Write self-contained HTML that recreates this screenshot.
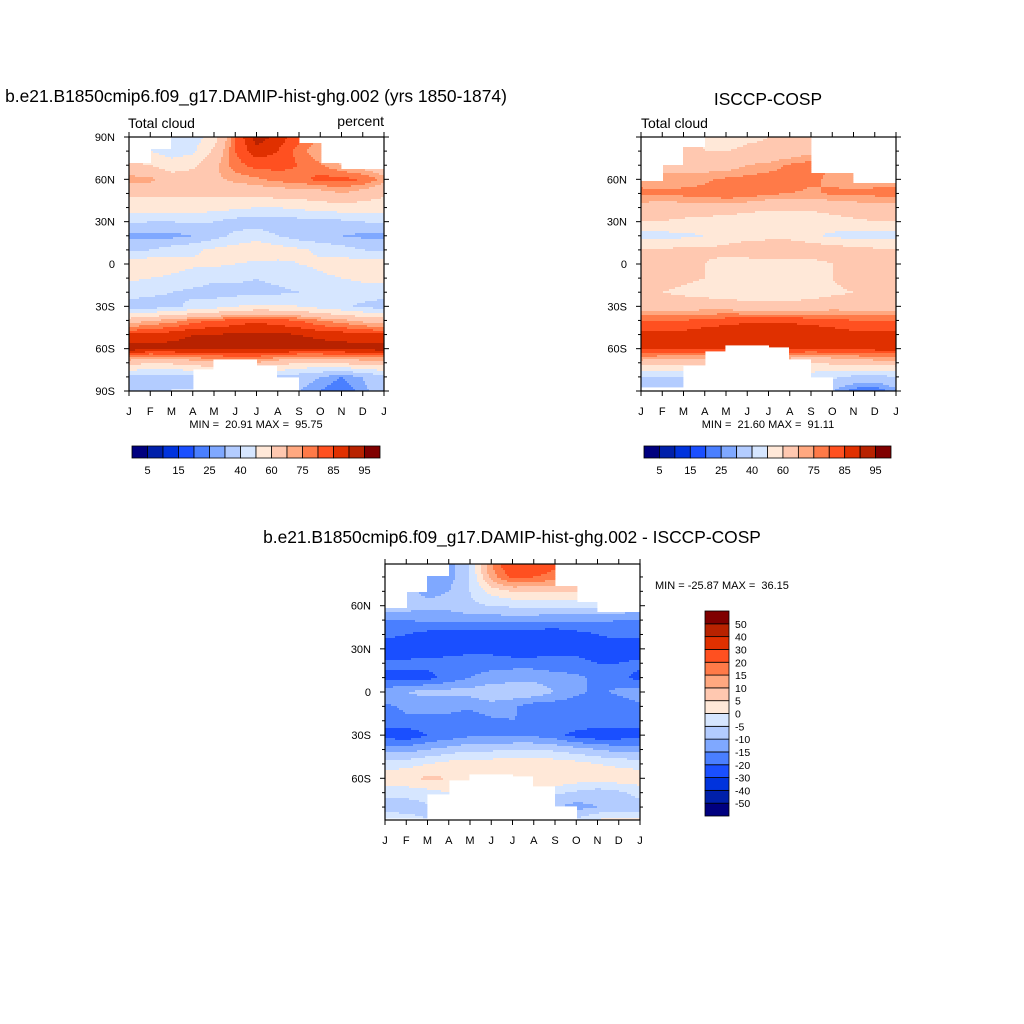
<!DOCTYPE html>
<html><head><meta charset="utf-8">
<style>
html,body{margin:0;padding:0;background:#fff;}
svg{display:block;font-family:"Liberation Sans",Arial,sans-serif;}
.pre{white-space:pre;}
</style></head>
<body>
<svg id="root" width="1024" height="1024" viewBox="0 0 1024 1024" xmlns="http://www.w3.org/2000/svg">
<rect x="0" y="0" width="1024" height="1024" fill="#fff"/>
<text x="256" y="102" font-size="17.4" text-anchor="middle">b.e21.B1850cmip6.f09_g17.DAMIP-hist-ghg.002 (yrs 1850-1874)</text>
<text x="768" y="105" font-size="17.4" text-anchor="middle">ISCCP-COSP</text>
<text x="512" y="543" font-size="17.4" text-anchor="middle">b.e21.B1850cmip6.f09_g17.DAMIP-hist-ghg.002 - ISCCP-COSP</text>
<text x="128" y="128" font-size="14">Total cloud</text>
<text x="384" y="126" font-size="14" text-anchor="end">percent</text>
<text x="641" y="128" font-size="14">Total cloud</text>
<text class="pre" x="256" y="428" font-size="11" text-anchor="middle">MIN =  20.91 MAX =  95.75</text>
<text class="pre" x="768" y="428" font-size="11" text-anchor="middle">MIN =  21.60 MAX =  91.11</text>
<text class="pre" x="655" y="589" font-size="11">MIN = -25.87 MAX =  36.15</text>
<g id="layer"></g>
</svg>
<script>
const months = ["J","F","M","A","M","J","J","A","S","O","N","D","J"];
const lats = [90,80,70,60,50,40,30,20,10,0,-10,-20,-30,-40,-50,-60,-70,-80,-90];
const colors = ["#00007f","#0020aa","#0033dd","#1a4fff","#4a7fff","#7fa8ff","#b3ccff","#d6e6ff","#ffe8d8","#ffc8b0","#ffa880","#ff7a48","#ff5020","#e03000","#b82200","#800000"];
const absLevels = [5,10,15,20,25,30,40,50,60,70,75,80,85,90,95];
const absLabels = ["5","15","25","40","60","75","85","95"];
const diffLevels = [-50,-40,-30,-20,-15,-10,-5,0,5,10,15,20,30,40,50];
const diffLabels = ["-50","-40","-30","-20","-15","-10","-5","0","5","10","15","20","30","40","50"];

const modelNorthLimit = [72,81,90,90,90,90,90,90,86,72,67,67];
const modelSouthLimit = [-90,-90,-88,-75,-67.5,-67.5,-71.5,-80,-90,-90,-90,-90];
const obsNorthLimit = [59,70,83,90,90,90,90,90,65,65,57,57];
const obsSouthLimit = [-87,-87,-72,-62,-57.5,-57.5,-59.5,-67,-80,-90,-90,-90];
const diffNorthLimit = [58.6,69,81,90,90,90,90,90,74,63,56,56];
const diffSouthLimit = [-88,-88,-71,-61.5,-56.6,-56.6,-58.6,-66,-79,-90,-90,-90];

const modelValues = [
[60,55,45,45,55,80,93,88,82,75,65,60,60],
[55,50,45,48,62,80,88,85,78,70,65,60,55],
[62,60,55,58,68,78,82,82,80,76,70,66,62],
[73,72,65,65,68,72,74,77,78,82,82,80,73],
[62,62,62,62,62,63,64,65,66,66,70,66,62],
[55,55,55,55,54,52,50,50,52,55,56,55,55],
[42,40,40,42,40,36,35,35,36,36,38,40,42],
[28,27,27,30,36,42,45,40,35,32,30,28,28],
[38,40,45,48,52,55,58,55,52,48,45,40,38],
[55,58,55,52,52,50,48,48,50,52,55,55,55],
[52,50,48,45,42,42,40,42,45,48,50,52,52],
[45,42,40,38,36,36,38,38,40,42,44,45,45],
[35,35,38,42,45,50,52,52,50,46,42,38,35],
[65,70,72,78,80,82,84,82,80,75,72,68,65],
[86,87,88,90,90,91,91,91,90,89,88,87,86],
[93,92,92,92,92,92,92,92,92,92,92,92,93],
[65,60,62,65,68,70,70,65,60,60,62,65,65],
[38,36,36,38,40,40,40,38,35,30,25,30,38],
[35,35,33,33,35,35,35,33,30,25,20,28,35]];

const obsValues = [
[60,62,65,58,55,58,60,62,65,70,68,65,60],
[62,64,66,60,60,62,62,64,68,72,70,66,62],
[66,68,68,66,66,70,72,76,78,74,72,68,66],
[72,72,72,74,76,77,78,78,76,74,72,72,72],
[77,76,77,77,80,79,76,75,74,76,76,77,77],
[66,65,66,67,66,64,62,62,62,64,66,66,66],
[60,60,58,56,55,53,52,52,54,56,58,60,60],
[46,46,48,50,53,55,56,56,52,48,46,46,46],
[62,62,62,62,64,68,70,70,68,66,64,62,62],
[66,66,64,60,56,54,54,55,56,60,64,66,66],
[64,64,62,60,56,54,54,54,56,60,64,64,64],
[62,60,58,56,55,53,52,54,56,58,60,62,62],
[66,66,66,66,66,64,64,64,64,66,66,66,66],
[80,80,80,82,83,84,84,84,83,82,80,80,80],
[87,87,87,88,89,89,89,89,89,88,87,87,87],
[87,86,86,86,86,86,86,86,86,86,86,87,87],
[66,64,62,62,62,62,62,62,60,62,64,66,66],
[40,40,40,45,50,50,50,50,45,42,38,36,40],
[28,30,33,38,40,40,40,40,38,30,22,20,28]];

const diffValues = [
[-10,-10,-15,-12,-5,15,28,25,22,10,5,0,-10],
[-10,-10,-15,-12,-5,12,22,20,18,8,5,0,-10],
[-8,-8,-12,-10,-5,2,5,5,5,6,5,2,-8],
[-7,-7,-8,-8,-6,-5,-4,-4,-4,-3,-3,-4,-7],
[-15,-15,-14,-14,-13,-13,-13,-13,-14,-14,-14,-15,-15],
[-18,-20,-22,-22,-24,-24,-24,-24,-24,-22,-20,-18,-18],
[-25,-25,-24,-22,-22,-22,-24,-24,-22,-22,-24,-25,-25],
[-18,-18,-18,-18,-17,-17,-17,-17,-18,-18,-20,-20,-18],
[-22,-22,-22,-18,-15,-13,-12,-12,-13,-14,-16,-18,-22],
[-12,-10,-8,-8,-8,-6,-6,-6,-10,-14,-16,-14,-12],
[-16,-14,-14,-14,-14,-12,-14,-18,-18,-18,-18,-18,-16],
[-18,-16,-16,-16,-18,-16,-15,-16,-16,-16,-16,-17,-18],
[-22,-24,-20,-18,-16,-16,-16,-16,-18,-22,-24,-23,-22],
[-12,-12,-10,-8,-6,-6,-5,-5,-6,-8,-10,-12,-12],
[-2,-2,0,2,3,3,4,4,3,2,0,-1,-2],
[3,4,6,5,3,3,3,5,5,3,3,3,3],
[-3,-3,-2,0,1,1,1,1,-4,-6,-8,-6,-3],
[-8,-8,-6,-6,-6,-6,-6,-6,-10,-12,-10,-9,-8],
[2,-2,-5,-5,-5,-5,-5,-5,-8,-3,2,2,2]];

const NS = "http://www.w3.org/2000/svg";
const layer = document.getElementById("layer");
function mk(tag, attrs, parent){
  const e = document.createElementNS(NS, tag);
  for (const k in attrs) e.setAttribute(k, attrs[k]);
  (parent||layer).appendChild(e);
  return e;
}
function levelIndex(v, levels){ let i=0; while(i<levels.length && v>=levels[i]) i++; return i; }
function sample(vals, m, lat){
  const r = (90-lat)/10; const r0 = Math.min(17, Math.max(0, Math.floor(r))); const fr = Math.min(1,Math.max(0,r-r0));
  const c0 = Math.min(11, Math.max(0, Math.floor(m))); const fc = Math.min(1,Math.max(0,m-c0));
  const a = vals[r0][c0]*(1-fc)+vals[r0][c0+1]*fc;
  const b = vals[r0+1][c0]*(1-fc)+vals[r0+1][c0+1]*fc;
  return a*(1-fr)+b*fr;
}
function drawPanel(p){
  const g = mk("g", {});
  
  
  const W = p.x1-p.x0, H = p.y1-p.y0;
  const xOf = m => p.x0 + m/12*W;
  const yOf = lat => p.y0 + (p.latTop-lat)/(p.latTop-p.latBot)*H;
  const step = 2;
  const nx = Math.ceil(W/step), ny = Math.ceil(H/step);
  for (let j = 0; j < ny; j++){
    const py = p.y0 + j*step;
    const hh = Math.min(step, p.y1-py);
    const lat = p.latTop - (py+hh/2-p.y0)/H*(p.latTop-p.latBot);
    let runStart = p.x0, runColor = null;
    for (let i = 0; i <= nx; i++){
      const px = Math.min(p.x0 + i*step, p.x1);
      let col = null;
      if (i < nx){
        const m = Math.min(11.999,(px+step/2-p.x0)/W*12);
        const iv = Math.min(11, Math.floor(m));
        if (lat > p.north[iv] || lat < p.south[iv]) col = "#ffffff";
        else col = colors[levelIndex(sample(p.vals, m, lat), p.levels)];
      }
      if (col !== runColor){
        if (runColor !== null && runColor !== "#ffffff"){
          const r = mk("rect", {x:runStart, y:py, width:px-runStart+0.4, height:hh+0.4, fill:runColor}, g);
          
          
        }
        runStart = px; runColor = col;
      }
    }
  }
  const fr = mk("rect", {x:p.x0, y:p.y0, width:W, height:H, fill:"none", stroke:"#000", "stroke-width":1.2}, g);
  
  
  for (let i=0;i<=12;i++){
    const x = xOf(i);
    mk("line",{x1:x,y1:p.y1,x2:x,y2:p.y1+5,stroke:"#000","stroke-width":1},g);
    mk("line",{x1:x,y1:p.y0,x2:x,y2:p.y0-5,stroke:"#000","stroke-width":1},g);
    const t = mk("text",{x:x,y:p.y1+24,"font-size":11,"text-anchor":"middle"},g);
    t.textContent = months[i];
    
    
  }
  for (let lat=90; lat>=-90; lat-=10){
    const y = yOf(lat);
    if (y < p.y0-0.5 || y > p.y1+0.5) continue;
    const major = lat%30===0;
    const L = major?5:3;
    mk("line",{x1:p.x0-L,y1:y,x2:p.x0,y2:y,stroke:"#000","stroke-width":1},g);
    mk("line",{x1:p.x1,y1:y,x2:p.x1+L,y2:y,stroke:"#000","stroke-width":1},g);
    if (major && (p.poleLabels || Math.abs(lat)<90)){
      const t = mk("text",{x:p.x0-14,y:y+4,"font-size":11,"text-anchor":"end"},g);
      t.textContent = lat===0?"0":(Math.abs(lat)+(lat>0?"N":"S"));
      
      
    }
  }
}
drawPanel({name:"model-contour-panel",x0:129,x1:384,y0:137,y1:391,latTop:90,latBot:-90,vals:modelValues,levels:absLevels,north:modelNorthLimit,south:modelSouthLimit,poleLabels:true});
drawPanel({name:"obs-contour-panel",x0:641,x1:896,y0:137,y1:391,latTop:90,latBot:-90,vals:obsValues,levels:absLevels,north:obsNorthLimit,south:obsSouthLimit,poleLabels:false});
drawPanel({name:"diff-contour-panel",x0:385,x1:640,y0:564,y1:820,latTop:89,latBot:-89,vals:diffValues,levels:diffLevels,north:diffNorthLimit,south:diffSouthLimit,poleLabels:false});

function hbar(name, x0, x1, y0, h){
  const g = mk("g",{});
  
  
  const w = (x1-x0)/colors.length;
  colors.forEach((c,i)=>{
    const r = mk("rect",{x:x0+i*w,y:y0,width:w,height:h,fill:c,stroke:"#000","stroke-width":0.8},g);
    
    
  });
  absLabels.forEach((lab,k)=>{
    const t = mk("text",{x:x0+(2*k+1)*w,y:y0+h+16,"font-size":11,"text-anchor":"middle"},g);
    t.textContent = lab;
    
    
  });
}
hbar("model-colorbar",132,380,446,12);
hbar("obs-colorbar",644,891,446,12);
(function(){
  const g = mk("g",{});
  
  
  const x0=705, w=24, y0=611, y1=816, h=(y1-y0)/colors.length;
  colors.forEach((c,i)=>{
    const r = mk("rect",{x:x0,y:y1-(i+1)*h,width:w,height:h,fill:c,stroke:"#000","stroke-width":0.8},g);
    
    
  });
  diffLabels.forEach((lab,k)=>{
    const t = mk("text",{x:x0+w+6,y:y1-(k+1)*h+4,"font-size":10.5},g);
    t.textContent = lab;
    
    
  });
})();
</script>
</body></html>
